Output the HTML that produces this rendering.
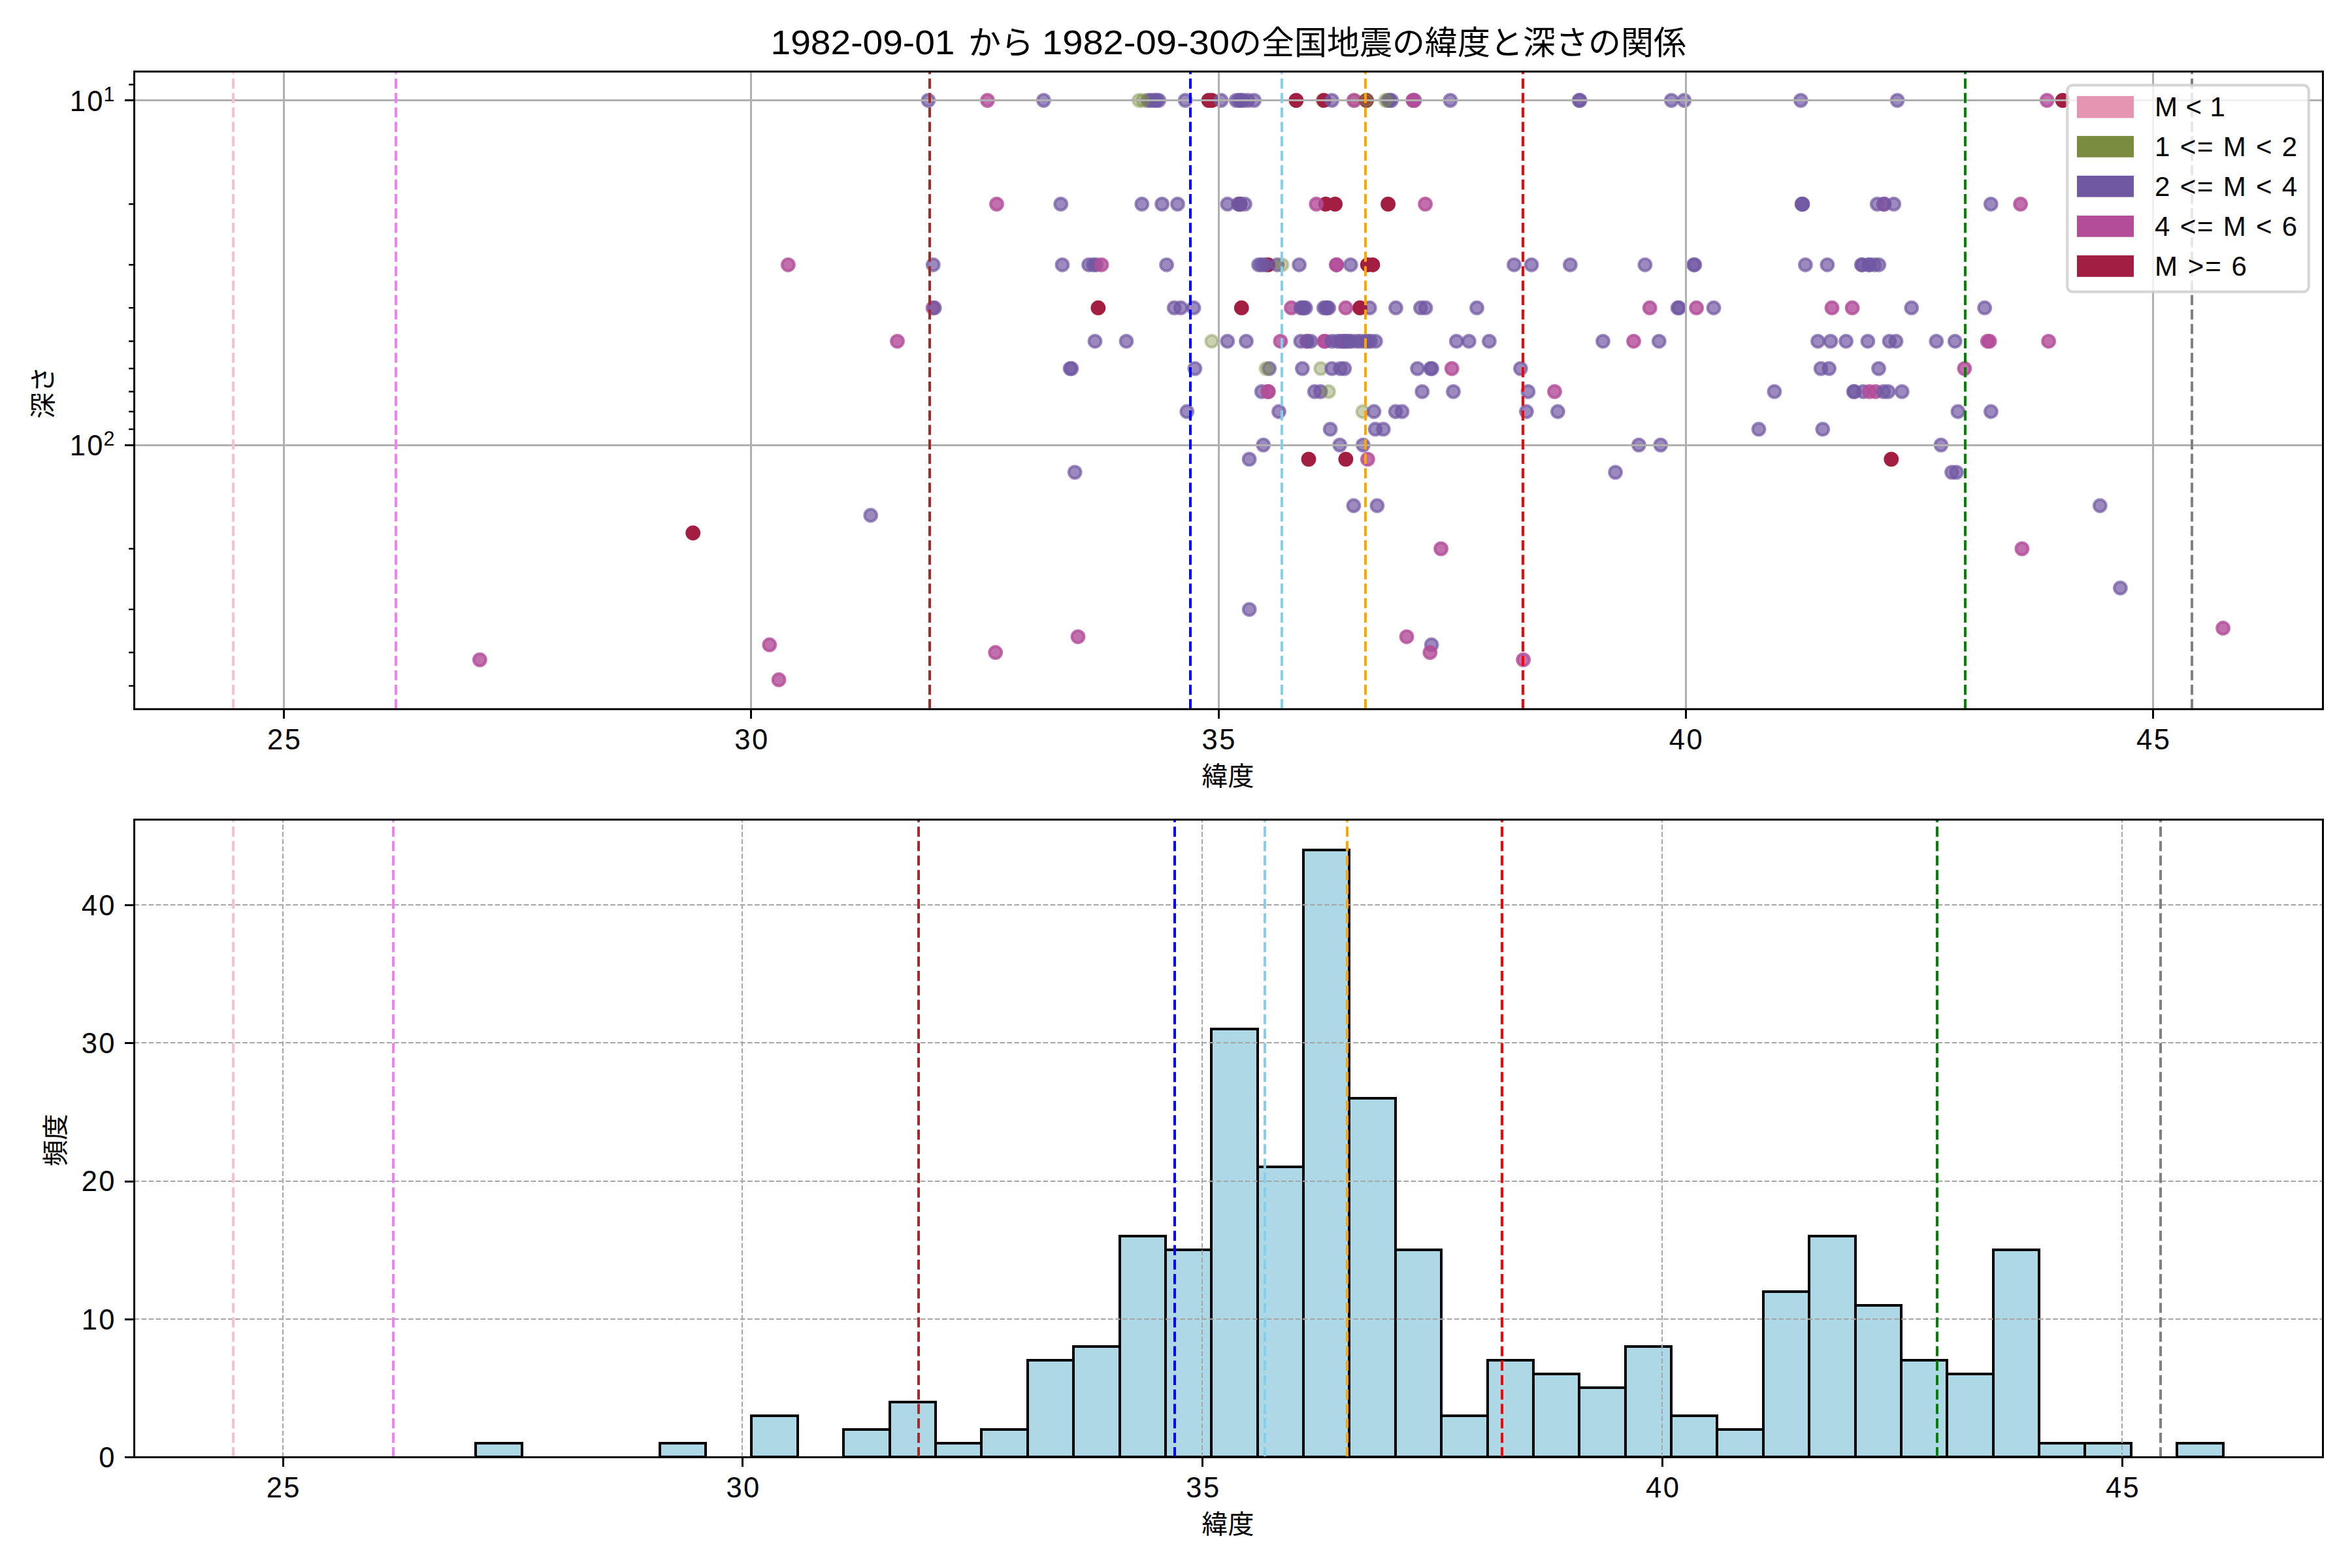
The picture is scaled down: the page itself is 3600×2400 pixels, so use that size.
<!DOCTYPE html>
<html lang="ja"><head><meta charset="utf-8">
<title>1982-09-01 から 1982-09-30の全国地震の緯度と深さの関係</title>
<style>html,body{margin:0;padding:0;background:#fff}svg{display:block}text{font-family:'Liberation Sans', 'Noto Sans CJK JP', sans-serif;fill:#000}</style>
</head><body>
<svg width="3600" height="2400" viewBox="0 0 3600 2400">
<rect x="0" y="0" width="3600" height="2400" fill="#ffffff"/>
<defs><clipPath id="c1"><rect x="205.5" y="109.5" width="3350" height="976"/></clipPath><clipPath id="c2"><rect x="205.5" y="1254.5" width="3350" height="976"/></clipPath></defs>
<g id="ax1">
<g clip-path="url(#c1)" stroke-width="4.17">
<circle cx="1420.9" cy="153.6" r="9.32" fill="#7058a3" stroke="#7058a3" fill-opacity="0.7" stroke-opacity="0.7"/>
<circle cx="1511.5" cy="153.6" r="9.32" fill="#b34c99" stroke="#b34c99" fill-opacity="0.8" stroke-opacity="0.8"/>
<circle cx="1597.4" cy="153.6" r="9.32" fill="#7058a3" stroke="#7058a3" fill-opacity="0.7" stroke-opacity="0.7"/>
<circle cx="1757.2" cy="153.6" r="9.32" fill="#7058a3" stroke="#7058a3" fill-opacity="0.7" stroke-opacity="0.7"/>
<circle cx="1762" cy="153.6" r="9.32" fill="#7058a3" stroke="#7058a3" fill-opacity="0.7" stroke-opacity="0.7"/>
<circle cx="1767" cy="153.6" r="9.32" fill="#7058a3" stroke="#7058a3" fill-opacity="0.7" stroke-opacity="0.7"/>
<circle cx="1770.5" cy="153.6" r="9.32" fill="#7058a3" stroke="#7058a3" fill-opacity="0.7" stroke-opacity="0.7"/>
<circle cx="1773.7" cy="153.6" r="9.32" fill="#7058a3" stroke="#7058a3" fill-opacity="0.7" stroke-opacity="0.7"/>
<circle cx="1743.2" cy="153.6" r="9.32" fill="#7a8c40" stroke="#7a8c40" fill-opacity="0.4" stroke-opacity="0.4"/>
<circle cx="1749.4" cy="153.6" r="9.32" fill="#7a8c40" stroke="#7a8c40" fill-opacity="0.4" stroke-opacity="0.4"/>
<circle cx="1814.2" cy="153.6" r="9.32" fill="#7058a3" stroke="#7058a3" fill-opacity="0.7" stroke-opacity="0.7"/>
<circle cx="1850.1" cy="153.6" r="9.32" fill="#a31f42" stroke="#a31f42"/>
<circle cx="1854.7" cy="153.6" r="9.32" fill="#a31f42" stroke="#a31f42"/>
<circle cx="1869" cy="153.6" r="9.32" fill="#7058a3" stroke="#7058a3" fill-opacity="0.7" stroke-opacity="0.7"/>
<circle cx="1892.2" cy="153.6" r="9.32" fill="#7058a3" stroke="#7058a3" fill-opacity="0.7" stroke-opacity="0.7"/>
<circle cx="1897" cy="153.6" r="9.32" fill="#7058a3" stroke="#7058a3" fill-opacity="0.7" stroke-opacity="0.7"/>
<circle cx="1899" cy="153.6" r="9.32" fill="#7058a3" stroke="#7058a3" fill-opacity="0.7" stroke-opacity="0.7"/>
<circle cx="1902.5" cy="153.6" r="9.32" fill="#7058a3" stroke="#7058a3" fill-opacity="0.7" stroke-opacity="0.7"/>
<circle cx="1910" cy="153.6" r="9.32" fill="#7058a3" stroke="#7058a3" fill-opacity="0.7" stroke-opacity="0.7"/>
<circle cx="1919.6" cy="153.6" r="9.32" fill="#7058a3" stroke="#7058a3" fill-opacity="0.7" stroke-opacity="0.7"/>
<circle cx="1983.9" cy="153.6" r="9.32" fill="#a31f42" stroke="#a31f42"/>
<circle cx="2024.5" cy="153.6" r="9.32" fill="#7a8c40" stroke="#7a8c40" fill-opacity="0.4" stroke-opacity="0.4"/>
<circle cx="2026.5" cy="153.6" r="9.32" fill="#a31f42" stroke="#a31f42"/>
<circle cx="2038.6" cy="153.6" r="9.32" fill="#7058a3" stroke="#7058a3" fill-opacity="0.7" stroke-opacity="0.7"/>
<circle cx="2073.8" cy="153.6" r="9.32" fill="#7a8c40" stroke="#7a8c40" fill-opacity="0.4" stroke-opacity="0.4"/>
<circle cx="2072.3" cy="153.6" r="9.32" fill="#b34c99" stroke="#b34c99" fill-opacity="0.8" stroke-opacity="0.8"/>
<circle cx="2091.5" cy="153.6" r="9.32" fill="#a31f42" stroke="#a31f42"/>
<circle cx="2091.5" cy="153.6" r="9.32" fill="#7a8c40" stroke="#7a8c40" fill-opacity="0.4" stroke-opacity="0.4"/>
<circle cx="2124.5" cy="153.6" r="9.32" fill="#7058a3" stroke="#7058a3" fill-opacity="0.7" stroke-opacity="0.7"/>
<circle cx="2127" cy="153.6" r="9.32" fill="#7058a3" stroke="#7058a3" fill-opacity="0.7" stroke-opacity="0.7"/>
<circle cx="2129.6" cy="153.6" r="9.32" fill="#7058a3" stroke="#7058a3" fill-opacity="0.7" stroke-opacity="0.7"/>
<circle cx="2120.8" cy="153.6" r="9.32" fill="#7a8c40" stroke="#7a8c40" fill-opacity="0.4" stroke-opacity="0.4"/>
<circle cx="2165.1" cy="153.6" r="9.32" fill="#7058a3" stroke="#7058a3" fill-opacity="0.7" stroke-opacity="0.7"/>
<circle cx="2162.8" cy="153.6" r="9.32" fill="#b34c99" stroke="#b34c99" fill-opacity="0.8" stroke-opacity="0.8"/>
<circle cx="2163.6" cy="153.6" r="9.32" fill="#b34c99" stroke="#b34c99" fill-opacity="0.8" stroke-opacity="0.8"/>
<circle cx="2219.9" cy="153.6" r="9.32" fill="#7058a3" stroke="#7058a3" fill-opacity="0.7" stroke-opacity="0.7"/>
<circle cx="2417.2" cy="153.6" r="9.32" fill="#7058a3" stroke="#7058a3" fill-opacity="0.7" stroke-opacity="0.7"/>
<circle cx="2418.2" cy="153.6" r="9.32" fill="#7058a3" stroke="#7058a3" fill-opacity="0.7" stroke-opacity="0.7"/>
<circle cx="2558.3" cy="153.6" r="9.32" fill="#7058a3" stroke="#7058a3" fill-opacity="0.7" stroke-opacity="0.7"/>
<circle cx="2577.8" cy="153.6" r="9.32" fill="#7058a3" stroke="#7058a3" fill-opacity="0.7" stroke-opacity="0.7"/>
<circle cx="2756.3" cy="153.6" r="9.32" fill="#7058a3" stroke="#7058a3" fill-opacity="0.7" stroke-opacity="0.7"/>
<circle cx="2904.1" cy="153.6" r="9.32" fill="#7058a3" stroke="#7058a3" fill-opacity="0.7" stroke-opacity="0.7"/>
<circle cx="3133.2" cy="153.6" r="9.32" fill="#b34c99" stroke="#b34c99" fill-opacity="0.8" stroke-opacity="0.8"/>
<circle cx="3157.1" cy="153.6" r="9.32" fill="#a31f42" stroke="#a31f42"/>
<circle cx="1525.5" cy="312.39" r="9.32" fill="#b34c99" stroke="#b34c99" fill-opacity="0.8" stroke-opacity="0.8"/>
<circle cx="1623.7" cy="312.39" r="9.32" fill="#7058a3" stroke="#7058a3" fill-opacity="0.7" stroke-opacity="0.7"/>
<circle cx="1747.8" cy="312.39" r="9.32" fill="#7058a3" stroke="#7058a3" fill-opacity="0.7" stroke-opacity="0.7"/>
<circle cx="1778.6" cy="312.39" r="9.32" fill="#7058a3" stroke="#7058a3" fill-opacity="0.7" stroke-opacity="0.7"/>
<circle cx="1802.5" cy="312.39" r="9.32" fill="#7058a3" stroke="#7058a3" fill-opacity="0.7" stroke-opacity="0.7"/>
<circle cx="1878.8" cy="312.39" r="9.32" fill="#7058a3" stroke="#7058a3" fill-opacity="0.7" stroke-opacity="0.7"/>
<circle cx="1898" cy="312.39" r="9.32" fill="#a31f42" stroke="#a31f42"/>
<circle cx="1895.5" cy="312.39" r="9.32" fill="#7058a3" stroke="#7058a3" fill-opacity="0.7" stroke-opacity="0.7"/>
<circle cx="1897" cy="312.39" r="9.32" fill="#7058a3" stroke="#7058a3" fill-opacity="0.7" stroke-opacity="0.7"/>
<circle cx="1905.4" cy="312.39" r="9.32" fill="#7058a3" stroke="#7058a3" fill-opacity="0.7" stroke-opacity="0.7"/>
<circle cx="2029.2" cy="312.39" r="9.32" fill="#a31f42" stroke="#a31f42"/>
<circle cx="2043.6" cy="312.39" r="9.32" fill="#a31f42" stroke="#a31f42"/>
<circle cx="2014.8" cy="312.39" r="9.32" fill="#b34c99" stroke="#b34c99" fill-opacity="0.8" stroke-opacity="0.8"/>
<circle cx="2124.6" cy="312.39" r="9.32" fill="#a31f42" stroke="#a31f42"/>
<circle cx="2181.6" cy="312.39" r="9.32" fill="#b34c99" stroke="#b34c99" fill-opacity="0.8" stroke-opacity="0.8"/>
<circle cx="2758.2" cy="312.39" r="9.32" fill="#7058a3" stroke="#7058a3" fill-opacity="0.7" stroke-opacity="0.7"/>
<circle cx="2758.6" cy="312.39" r="9.32" fill="#7058a3" stroke="#7058a3" fill-opacity="0.7" stroke-opacity="0.7"/>
<circle cx="2759" cy="312.39" r="9.32" fill="#7058a3" stroke="#7058a3" fill-opacity="0.7" stroke-opacity="0.7"/>
<circle cx="2873.3" cy="312.39" r="9.32" fill="#7058a3" stroke="#7058a3" fill-opacity="0.7" stroke-opacity="0.7"/>
<circle cx="2884.1" cy="312.39" r="9.32" fill="#b34c99" stroke="#b34c99" fill-opacity="0.8" stroke-opacity="0.8"/>
<circle cx="2883.3" cy="312.39" r="9.32" fill="#7058a3" stroke="#7058a3" fill-opacity="0.7" stroke-opacity="0.7"/>
<circle cx="2898.7" cy="312.39" r="9.32" fill="#7058a3" stroke="#7058a3" fill-opacity="0.7" stroke-opacity="0.7"/>
<circle cx="3047.3" cy="312.39" r="9.32" fill="#7058a3" stroke="#7058a3" fill-opacity="0.7" stroke-opacity="0.7"/>
<circle cx="3092.6" cy="312.39" r="9.32" fill="#b34c99" stroke="#b34c99" fill-opacity="0.8" stroke-opacity="0.8"/>
<circle cx="1206.4" cy="405.28" r="9.32" fill="#b34c99" stroke="#b34c99" fill-opacity="0.8" stroke-opacity="0.8"/>
<circle cx="1428.3" cy="405.28" r="9.32" fill="#7058a3" stroke="#7058a3" fill-opacity="0.7" stroke-opacity="0.7"/>
<circle cx="1626" cy="405.28" r="9.32" fill="#7058a3" stroke="#7058a3" fill-opacity="0.7" stroke-opacity="0.7"/>
<circle cx="1666.5" cy="405.28" r="9.32" fill="#7058a3" stroke="#7058a3" fill-opacity="0.7" stroke-opacity="0.7"/>
<circle cx="1673.5" cy="405.28" r="9.32" fill="#7058a3" stroke="#7058a3" fill-opacity="0.7" stroke-opacity="0.7"/>
<circle cx="1678" cy="405.28" r="9.32" fill="#7058a3" stroke="#7058a3" fill-opacity="0.7" stroke-opacity="0.7"/>
<circle cx="1686" cy="405.28" r="9.32" fill="#b34c99" stroke="#b34c99" fill-opacity="0.8" stroke-opacity="0.8"/>
<circle cx="1785.6" cy="405.28" r="9.32" fill="#7058a3" stroke="#7058a3" fill-opacity="0.7" stroke-opacity="0.7"/>
<circle cx="1941" cy="405.28" r="9.32" fill="#a31f42" stroke="#a31f42"/>
<circle cx="1926.5" cy="405.28" r="9.32" fill="#7058a3" stroke="#7058a3" fill-opacity="0.7" stroke-opacity="0.7"/>
<circle cx="1931" cy="405.28" r="9.32" fill="#7058a3" stroke="#7058a3" fill-opacity="0.7" stroke-opacity="0.7"/>
<circle cx="1936" cy="405.28" r="9.32" fill="#7058a3" stroke="#7058a3" fill-opacity="0.7" stroke-opacity="0.7"/>
<circle cx="1955.1" cy="405.28" r="9.32" fill="#7058a3" stroke="#7058a3" fill-opacity="0.7" stroke-opacity="0.7"/>
<circle cx="1962.3" cy="405.28" r="9.32" fill="#7a8c40" stroke="#7a8c40" fill-opacity="0.4" stroke-opacity="0.4"/>
<circle cx="1988.6" cy="405.28" r="9.32" fill="#7058a3" stroke="#7058a3" fill-opacity="0.7" stroke-opacity="0.7"/>
<circle cx="2045.5" cy="405.28" r="9.32" fill="#b34c99" stroke="#b34c99" fill-opacity="0.8" stroke-opacity="0.8"/>
<circle cx="2045.9" cy="405.28" r="9.32" fill="#b34c99" stroke="#b34c99" fill-opacity="0.8" stroke-opacity="0.8"/>
<circle cx="2067.3" cy="405.28" r="9.32" fill="#7058a3" stroke="#7058a3" fill-opacity="0.7" stroke-opacity="0.7"/>
<circle cx="2093.3" cy="405.28" r="9.32" fill="#a31f42" stroke="#a31f42"/>
<circle cx="2101" cy="405.28" r="9.32" fill="#a31f42" stroke="#a31f42"/>
<circle cx="2317.5" cy="405.28" r="9.32" fill="#7058a3" stroke="#7058a3" fill-opacity="0.7" stroke-opacity="0.7"/>
<circle cx="2344.1" cy="405.28" r="9.32" fill="#7058a3" stroke="#7058a3" fill-opacity="0.7" stroke-opacity="0.7"/>
<circle cx="2403.4" cy="405.28" r="9.32" fill="#7058a3" stroke="#7058a3" fill-opacity="0.7" stroke-opacity="0.7"/>
<circle cx="2517.9" cy="405.28" r="9.32" fill="#7058a3" stroke="#7058a3" fill-opacity="0.7" stroke-opacity="0.7"/>
<circle cx="2592.5" cy="405.28" r="9.32" fill="#7058a3" stroke="#7058a3" fill-opacity="0.7" stroke-opacity="0.7"/>
<circle cx="2593.9" cy="405.28" r="9.32" fill="#7058a3" stroke="#7058a3" fill-opacity="0.7" stroke-opacity="0.7"/>
<circle cx="2763.4" cy="405.28" r="9.32" fill="#7058a3" stroke="#7058a3" fill-opacity="0.7" stroke-opacity="0.7"/>
<circle cx="2796.9" cy="405.28" r="9.32" fill="#7058a3" stroke="#7058a3" fill-opacity="0.7" stroke-opacity="0.7"/>
<circle cx="2849.3" cy="405.28" r="9.32" fill="#7058a3" stroke="#7058a3" fill-opacity="0.7" stroke-opacity="0.7"/>
<circle cx="2850.7" cy="405.28" r="9.32" fill="#7058a3" stroke="#7058a3" fill-opacity="0.7" stroke-opacity="0.7"/>
<circle cx="2860.5" cy="405.28" r="9.32" fill="#7058a3" stroke="#7058a3" fill-opacity="0.7" stroke-opacity="0.7"/>
<circle cx="2861.5" cy="405.28" r="9.32" fill="#7058a3" stroke="#7058a3" fill-opacity="0.7" stroke-opacity="0.7"/>
<circle cx="2869.1" cy="405.28" r="9.32" fill="#7058a3" stroke="#7058a3" fill-opacity="0.7" stroke-opacity="0.7"/>
<circle cx="2875.8" cy="405.28" r="9.32" fill="#7058a3" stroke="#7058a3" fill-opacity="0.7" stroke-opacity="0.7"/>
<circle cx="1428.1" cy="471.19" r="9.32" fill="#b34c99" stroke="#b34c99" fill-opacity="0.8" stroke-opacity="0.8"/>
<circle cx="1430.3" cy="471.19" r="9.32" fill="#7058a3" stroke="#7058a3" fill-opacity="0.7" stroke-opacity="0.7"/>
<circle cx="1680.9" cy="471.19" r="9.32" fill="#a31f42" stroke="#a31f42"/>
<circle cx="1797.3" cy="471.19" r="9.32" fill="#7058a3" stroke="#7058a3" fill-opacity="0.7" stroke-opacity="0.7"/>
<circle cx="1807.3" cy="471.19" r="9.32" fill="#7058a3" stroke="#7058a3" fill-opacity="0.7" stroke-opacity="0.7"/>
<circle cx="1827" cy="471.19" r="9.32" fill="#7058a3" stroke="#7058a3" fill-opacity="0.7" stroke-opacity="0.7"/>
<circle cx="1900.3" cy="471.19" r="9.32" fill="#a31f42" stroke="#a31f42"/>
<circle cx="1976.5" cy="471.19" r="9.32" fill="#b34c99" stroke="#b34c99" fill-opacity="0.8" stroke-opacity="0.8"/>
<circle cx="1991.1" cy="471.19" r="9.32" fill="#7058a3" stroke="#7058a3" fill-opacity="0.7" stroke-opacity="0.7"/>
<circle cx="1993.7" cy="471.19" r="9.32" fill="#7058a3" stroke="#7058a3" fill-opacity="0.7" stroke-opacity="0.7"/>
<circle cx="1995.7" cy="471.19" r="9.32" fill="#7058a3" stroke="#7058a3" fill-opacity="0.7" stroke-opacity="0.7"/>
<circle cx="1998.3" cy="471.19" r="9.32" fill="#7058a3" stroke="#7058a3" fill-opacity="0.7" stroke-opacity="0.7"/>
<circle cx="2026.3" cy="471.19" r="9.32" fill="#7058a3" stroke="#7058a3" fill-opacity="0.7" stroke-opacity="0.7"/>
<circle cx="2029.4" cy="471.19" r="9.32" fill="#7058a3" stroke="#7058a3" fill-opacity="0.7" stroke-opacity="0.7"/>
<circle cx="2031.4" cy="471.19" r="9.32" fill="#7058a3" stroke="#7058a3" fill-opacity="0.7" stroke-opacity="0.7"/>
<circle cx="2033.7" cy="471.19" r="9.32" fill="#7058a3" stroke="#7058a3" fill-opacity="0.7" stroke-opacity="0.7"/>
<circle cx="2059.8" cy="471.19" r="9.32" fill="#b34c99" stroke="#b34c99" fill-opacity="0.8" stroke-opacity="0.8"/>
<circle cx="2096.3" cy="471.19" r="9.32" fill="#7058a3" stroke="#7058a3" fill-opacity="0.7" stroke-opacity="0.7"/>
<circle cx="2081.5" cy="471.19" r="9.32" fill="#a31f42" stroke="#a31f42"/>
<circle cx="2136.5" cy="471.19" r="9.32" fill="#7058a3" stroke="#7058a3" fill-opacity="0.7" stroke-opacity="0.7"/>
<circle cx="2174.4" cy="471.19" r="9.32" fill="#7058a3" stroke="#7058a3" fill-opacity="0.7" stroke-opacity="0.7"/>
<circle cx="2182" cy="471.19" r="9.32" fill="#7058a3" stroke="#7058a3" fill-opacity="0.7" stroke-opacity="0.7"/>
<circle cx="2260.5" cy="471.19" r="9.32" fill="#7058a3" stroke="#7058a3" fill-opacity="0.7" stroke-opacity="0.7"/>
<circle cx="2525.2" cy="471.19" r="9.32" fill="#b34c99" stroke="#b34c99" fill-opacity="0.8" stroke-opacity="0.8"/>
<circle cx="2568.1" cy="471.19" r="9.32" fill="#7058a3" stroke="#7058a3" fill-opacity="0.7" stroke-opacity="0.7"/>
<circle cx="2570" cy="471.19" r="9.32" fill="#7058a3" stroke="#7058a3" fill-opacity="0.7" stroke-opacity="0.7"/>
<circle cx="2596.6" cy="471.19" r="9.32" fill="#b34c99" stroke="#b34c99" fill-opacity="0.8" stroke-opacity="0.8"/>
<circle cx="2623" cy="471.19" r="9.32" fill="#7058a3" stroke="#7058a3" fill-opacity="0.7" stroke-opacity="0.7"/>
<circle cx="2804" cy="471.19" r="9.32" fill="#b34c99" stroke="#b34c99" fill-opacity="0.8" stroke-opacity="0.8"/>
<circle cx="2835.1" cy="471.19" r="9.32" fill="#b34c99" stroke="#b34c99" fill-opacity="0.8" stroke-opacity="0.8"/>
<circle cx="2925.8" cy="471.19" r="9.32" fill="#7058a3" stroke="#7058a3" fill-opacity="0.7" stroke-opacity="0.7"/>
<circle cx="3037.7" cy="471.19" r="9.32" fill="#7058a3" stroke="#7058a3" fill-opacity="0.7" stroke-opacity="0.7"/>
<circle cx="1373.5" cy="522.31" r="9.32" fill="#b34c99" stroke="#b34c99" fill-opacity="0.8" stroke-opacity="0.8"/>
<circle cx="1676" cy="522.31" r="9.32" fill="#7058a3" stroke="#7058a3" fill-opacity="0.7" stroke-opacity="0.7"/>
<circle cx="1724" cy="522.31" r="9.32" fill="#7058a3" stroke="#7058a3" fill-opacity="0.7" stroke-opacity="0.7"/>
<circle cx="1854.7" cy="522.31" r="9.32" fill="#7a8c40" stroke="#7a8c40" fill-opacity="0.4" stroke-opacity="0.4"/>
<circle cx="1878.8" cy="522.31" r="9.32" fill="#7058a3" stroke="#7058a3" fill-opacity="0.7" stroke-opacity="0.7"/>
<circle cx="1907.5" cy="522.31" r="9.32" fill="#7058a3" stroke="#7058a3" fill-opacity="0.7" stroke-opacity="0.7"/>
<circle cx="1959.9" cy="522.31" r="9.32" fill="#b34c99" stroke="#b34c99" fill-opacity="0.8" stroke-opacity="0.8"/>
<circle cx="1990.8" cy="522.31" r="9.32" fill="#7058a3" stroke="#7058a3" fill-opacity="0.7" stroke-opacity="0.7"/>
<circle cx="2000.3" cy="522.31" r="9.32" fill="#b34c99" stroke="#b34c99" fill-opacity="0.8" stroke-opacity="0.8"/>
<circle cx="2000.8" cy="522.31" r="9.32" fill="#7058a3" stroke="#7058a3" fill-opacity="0.7" stroke-opacity="0.7"/>
<circle cx="2006.4" cy="522.31" r="9.32" fill="#7058a3" stroke="#7058a3" fill-opacity="0.7" stroke-opacity="0.7"/>
<circle cx="2026.8" cy="522.31" r="9.32" fill="#b34c99" stroke="#b34c99" fill-opacity="0.8" stroke-opacity="0.8"/>
<circle cx="2028.3" cy="522.31" r="9.32" fill="#b34c99" stroke="#b34c99" fill-opacity="0.8" stroke-opacity="0.8"/>
<circle cx="2038.6" cy="522.31" r="9.32" fill="#7058a3" stroke="#7058a3" fill-opacity="0.7" stroke-opacity="0.7"/>
<circle cx="2047" cy="522.31" r="9.32" fill="#7058a3" stroke="#7058a3" fill-opacity="0.7" stroke-opacity="0.7"/>
<circle cx="2052" cy="522.31" r="9.32" fill="#7058a3" stroke="#7058a3" fill-opacity="0.7" stroke-opacity="0.7"/>
<circle cx="2057.5" cy="522.31" r="9.32" fill="#b34c99" stroke="#b34c99" fill-opacity="0.8" stroke-opacity="0.8"/>
<circle cx="2056" cy="522.31" r="9.32" fill="#7058a3" stroke="#7058a3" fill-opacity="0.7" stroke-opacity="0.7"/>
<circle cx="2061.5" cy="522.31" r="9.32" fill="#7058a3" stroke="#7058a3" fill-opacity="0.7" stroke-opacity="0.7"/>
<circle cx="2065" cy="522.31" r="9.32" fill="#7058a3" stroke="#7058a3" fill-opacity="0.7" stroke-opacity="0.7"/>
<circle cx="2069.1" cy="522.31" r="9.32" fill="#7058a3" stroke="#7058a3" fill-opacity="0.7" stroke-opacity="0.7"/>
<circle cx="2077" cy="522.31" r="9.32" fill="#7058a3" stroke="#7058a3" fill-opacity="0.7" stroke-opacity="0.7"/>
<circle cx="2083" cy="522.31" r="9.32" fill="#7058a3" stroke="#7058a3" fill-opacity="0.7" stroke-opacity="0.7"/>
<circle cx="2089.6" cy="522.31" r="9.32" fill="#7058a3" stroke="#7058a3" fill-opacity="0.7" stroke-opacity="0.7"/>
<circle cx="2093.7" cy="522.31" r="9.32" fill="#7058a3" stroke="#7058a3" fill-opacity="0.7" stroke-opacity="0.7"/>
<circle cx="2097.8" cy="522.31" r="9.32" fill="#7058a3" stroke="#7058a3" fill-opacity="0.7" stroke-opacity="0.7"/>
<circle cx="2105.4" cy="522.31" r="9.32" fill="#7058a3" stroke="#7058a3" fill-opacity="0.7" stroke-opacity="0.7"/>
<circle cx="2229.3" cy="522.31" r="9.32" fill="#7058a3" stroke="#7058a3" fill-opacity="0.7" stroke-opacity="0.7"/>
<circle cx="2248.4" cy="522.31" r="9.32" fill="#7058a3" stroke="#7058a3" fill-opacity="0.7" stroke-opacity="0.7"/>
<circle cx="2279.4" cy="522.31" r="9.32" fill="#7058a3" stroke="#7058a3" fill-opacity="0.7" stroke-opacity="0.7"/>
<circle cx="2453.5" cy="522.31" r="9.32" fill="#7058a3" stroke="#7058a3" fill-opacity="0.7" stroke-opacity="0.7"/>
<circle cx="2500.5" cy="522.31" r="9.32" fill="#b34c99" stroke="#b34c99" fill-opacity="0.8" stroke-opacity="0.8"/>
<circle cx="2539.3" cy="522.31" r="9.32" fill="#7058a3" stroke="#7058a3" fill-opacity="0.7" stroke-opacity="0.7"/>
<circle cx="2782.5" cy="522.31" r="9.32" fill="#7058a3" stroke="#7058a3" fill-opacity="0.7" stroke-opacity="0.7"/>
<circle cx="2802" cy="522.31" r="9.32" fill="#7058a3" stroke="#7058a3" fill-opacity="0.7" stroke-opacity="0.7"/>
<circle cx="2825.6" cy="522.31" r="9.32" fill="#7058a3" stroke="#7058a3" fill-opacity="0.7" stroke-opacity="0.7"/>
<circle cx="2858.9" cy="522.31" r="9.32" fill="#7058a3" stroke="#7058a3" fill-opacity="0.7" stroke-opacity="0.7"/>
<circle cx="2892" cy="522.31" r="9.32" fill="#7058a3" stroke="#7058a3" fill-opacity="0.7" stroke-opacity="0.7"/>
<circle cx="2902" cy="522.31" r="9.32" fill="#7058a3" stroke="#7058a3" fill-opacity="0.7" stroke-opacity="0.7"/>
<circle cx="2963.8" cy="522.31" r="9.32" fill="#7058a3" stroke="#7058a3" fill-opacity="0.7" stroke-opacity="0.7"/>
<circle cx="2992.3" cy="522.31" r="9.32" fill="#7058a3" stroke="#7058a3" fill-opacity="0.7" stroke-opacity="0.7"/>
<circle cx="3042.3" cy="522.31" r="9.32" fill="#b34c99" stroke="#b34c99" fill-opacity="0.8" stroke-opacity="0.8"/>
<circle cx="3045.2" cy="522.31" r="9.32" fill="#b34c99" stroke="#b34c99" fill-opacity="0.8" stroke-opacity="0.8"/>
<circle cx="3135.6" cy="522.31" r="9.32" fill="#b34c99" stroke="#b34c99" fill-opacity="0.8" stroke-opacity="0.8"/>
<circle cx="1638" cy="564.07" r="9.32" fill="#7058a3" stroke="#7058a3" fill-opacity="0.7" stroke-opacity="0.7"/>
<circle cx="1640" cy="564.07" r="9.32" fill="#7058a3" stroke="#7058a3" fill-opacity="0.7" stroke-opacity="0.7"/>
<circle cx="1828.9" cy="564.07" r="9.32" fill="#7058a3" stroke="#7058a3" fill-opacity="0.7" stroke-opacity="0.7"/>
<circle cx="1942.7" cy="564.07" r="9.32" fill="#7058a3" stroke="#7058a3" fill-opacity="0.7" stroke-opacity="0.7"/>
<circle cx="1937.9" cy="564.07" r="9.32" fill="#7a8c40" stroke="#7a8c40" fill-opacity="0.4" stroke-opacity="0.4"/>
<circle cx="1993.4" cy="564.07" r="9.32" fill="#7058a3" stroke="#7058a3" fill-opacity="0.7" stroke-opacity="0.7"/>
<circle cx="2021.5" cy="564.07" r="9.32" fill="#7a8c40" stroke="#7a8c40" fill-opacity="0.4" stroke-opacity="0.4"/>
<circle cx="2038.6" cy="564.07" r="9.32" fill="#7058a3" stroke="#7058a3" fill-opacity="0.7" stroke-opacity="0.7"/>
<circle cx="2051.5" cy="564.07" r="9.32" fill="#7058a3" stroke="#7058a3" fill-opacity="0.7" stroke-opacity="0.7"/>
<circle cx="2057.8" cy="564.07" r="9.32" fill="#7058a3" stroke="#7058a3" fill-opacity="0.7" stroke-opacity="0.7"/>
<circle cx="2169.6" cy="564.07" r="9.32" fill="#7058a3" stroke="#7058a3" fill-opacity="0.7" stroke-opacity="0.7"/>
<circle cx="2189.7" cy="564.07" r="9.32" fill="#7058a3" stroke="#7058a3" fill-opacity="0.7" stroke-opacity="0.7"/>
<circle cx="2191.6" cy="564.07" r="9.32" fill="#7058a3" stroke="#7058a3" fill-opacity="0.7" stroke-opacity="0.7"/>
<circle cx="2222.2" cy="564.07" r="9.32" fill="#b34c99" stroke="#b34c99" fill-opacity="0.8" stroke-opacity="0.8"/>
<circle cx="2327.4" cy="564.07" r="9.32" fill="#7058a3" stroke="#7058a3" fill-opacity="0.7" stroke-opacity="0.7"/>
<circle cx="2787.1" cy="564.07" r="9.32" fill="#7058a3" stroke="#7058a3" fill-opacity="0.7" stroke-opacity="0.7"/>
<circle cx="2799.6" cy="564.07" r="9.32" fill="#7058a3" stroke="#7058a3" fill-opacity="0.7" stroke-opacity="0.7"/>
<circle cx="2875.5" cy="564.07" r="9.32" fill="#7058a3" stroke="#7058a3" fill-opacity="0.7" stroke-opacity="0.7"/>
<circle cx="3006.9" cy="564.07" r="9.32" fill="#b34c99" stroke="#b34c99" fill-opacity="0.8" stroke-opacity="0.8"/>
<circle cx="1931.2" cy="599.39" r="9.32" fill="#7058a3" stroke="#7058a3" fill-opacity="0.7" stroke-opacity="0.7"/>
<circle cx="1940.8" cy="599.39" r="9.32" fill="#b34c99" stroke="#b34c99" fill-opacity="0.8" stroke-opacity="0.8"/>
<circle cx="1941.3" cy="599.39" r="9.32" fill="#b34c99" stroke="#b34c99" fill-opacity="0.8" stroke-opacity="0.8"/>
<circle cx="2012.2" cy="599.39" r="9.32" fill="#7058a3" stroke="#7058a3" fill-opacity="0.7" stroke-opacity="0.7"/>
<circle cx="2021.2" cy="599.39" r="9.32" fill="#7058a3" stroke="#7058a3" fill-opacity="0.7" stroke-opacity="0.7"/>
<circle cx="2033.6" cy="599.39" r="9.32" fill="#7a8c40" stroke="#7a8c40" fill-opacity="0.4" stroke-opacity="0.4"/>
<circle cx="2176.8" cy="599.39" r="9.32" fill="#7058a3" stroke="#7058a3" fill-opacity="0.7" stroke-opacity="0.7"/>
<circle cx="2224.5" cy="599.39" r="9.32" fill="#7058a3" stroke="#7058a3" fill-opacity="0.7" stroke-opacity="0.7"/>
<circle cx="2338.9" cy="599.39" r="9.32" fill="#7058a3" stroke="#7058a3" fill-opacity="0.7" stroke-opacity="0.7"/>
<circle cx="2379.5" cy="599.39" r="9.32" fill="#b34c99" stroke="#b34c99" fill-opacity="0.8" stroke-opacity="0.8"/>
<circle cx="2715.9" cy="599.39" r="9.32" fill="#7058a3" stroke="#7058a3" fill-opacity="0.7" stroke-opacity="0.7"/>
<circle cx="2837.3" cy="599.39" r="9.32" fill="#7058a3" stroke="#7058a3" fill-opacity="0.7" stroke-opacity="0.7"/>
<circle cx="2838.3" cy="599.39" r="9.32" fill="#7058a3" stroke="#7058a3" fill-opacity="0.7" stroke-opacity="0.7"/>
<circle cx="2851.8" cy="599.39" r="9.32" fill="#7058a3" stroke="#7058a3" fill-opacity="0.7" stroke-opacity="0.7"/>
<circle cx="2861.4" cy="599.39" r="9.32" fill="#b34c99" stroke="#b34c99" fill-opacity="0.8" stroke-opacity="0.8"/>
<circle cx="2870.9" cy="599.39" r="9.32" fill="#b34c99" stroke="#b34c99" fill-opacity="0.8" stroke-opacity="0.8"/>
<circle cx="2883" cy="599.39" r="9.32" fill="#7058a3" stroke="#7058a3" fill-opacity="0.7" stroke-opacity="0.7"/>
<circle cx="2890.1" cy="599.39" r="9.32" fill="#7058a3" stroke="#7058a3" fill-opacity="0.7" stroke-opacity="0.7"/>
<circle cx="2911.2" cy="599.39" r="9.32" fill="#7058a3" stroke="#7058a3" fill-opacity="0.7" stroke-opacity="0.7"/>
<circle cx="1816.8" cy="629.98" r="9.32" fill="#7058a3" stroke="#7058a3" fill-opacity="0.7" stroke-opacity="0.7"/>
<circle cx="1957.5" cy="629.98" r="9.32" fill="#7058a3" stroke="#7058a3" fill-opacity="0.7" stroke-opacity="0.7"/>
<circle cx="2085.8" cy="629.98" r="9.32" fill="#7a8c40" stroke="#7a8c40" fill-opacity="0.4" stroke-opacity="0.4"/>
<circle cx="2103" cy="629.98" r="9.32" fill="#7058a3" stroke="#7058a3" fill-opacity="0.7" stroke-opacity="0.7"/>
<circle cx="2136.1" cy="629.98" r="9.32" fill="#7058a3" stroke="#7058a3" fill-opacity="0.7" stroke-opacity="0.7"/>
<circle cx="2146" cy="629.98" r="9.32" fill="#7058a3" stroke="#7058a3" fill-opacity="0.7" stroke-opacity="0.7"/>
<circle cx="2336.4" cy="629.98" r="9.32" fill="#7058a3" stroke="#7058a3" fill-opacity="0.7" stroke-opacity="0.7"/>
<circle cx="2384.4" cy="629.98" r="9.32" fill="#7058a3" stroke="#7058a3" fill-opacity="0.7" stroke-opacity="0.7"/>
<circle cx="2996.9" cy="629.98" r="9.32" fill="#7058a3" stroke="#7058a3" fill-opacity="0.7" stroke-opacity="0.7"/>
<circle cx="3047.4" cy="629.98" r="9.32" fill="#7058a3" stroke="#7058a3" fill-opacity="0.7" stroke-opacity="0.7"/>
<circle cx="2036.1" cy="656.96" r="9.32" fill="#7058a3" stroke="#7058a3" fill-opacity="0.7" stroke-opacity="0.7"/>
<circle cx="2105.1" cy="656.96" r="9.32" fill="#7058a3" stroke="#7058a3" fill-opacity="0.7" stroke-opacity="0.7"/>
<circle cx="2117.3" cy="656.96" r="9.32" fill="#7058a3" stroke="#7058a3" fill-opacity="0.7" stroke-opacity="0.7"/>
<circle cx="2692" cy="656.96" r="9.32" fill="#7058a3" stroke="#7058a3" fill-opacity="0.7" stroke-opacity="0.7"/>
<circle cx="2789.8" cy="656.96" r="9.32" fill="#7058a3" stroke="#7058a3" fill-opacity="0.7" stroke-opacity="0.7"/>
<circle cx="1933.7" cy="681.1" r="9.32" fill="#7058a3" stroke="#7058a3" fill-opacity="0.7" stroke-opacity="0.7"/>
<circle cx="2050.7" cy="681.1" r="9.32" fill="#7058a3" stroke="#7058a3" fill-opacity="0.7" stroke-opacity="0.7"/>
<circle cx="2086.3" cy="681.1" r="9.32" fill="#7058a3" stroke="#7058a3" fill-opacity="0.7" stroke-opacity="0.7"/>
<circle cx="2508.4" cy="681.1" r="9.32" fill="#7058a3" stroke="#7058a3" fill-opacity="0.7" stroke-opacity="0.7"/>
<circle cx="2541.8" cy="681.1" r="9.32" fill="#7058a3" stroke="#7058a3" fill-opacity="0.7" stroke-opacity="0.7"/>
<circle cx="2970.9" cy="681.1" r="9.32" fill="#7058a3" stroke="#7058a3" fill-opacity="0.7" stroke-opacity="0.7"/>
<circle cx="1912.1" cy="702.93" r="9.32" fill="#7058a3" stroke="#7058a3" fill-opacity="0.7" stroke-opacity="0.7"/>
<circle cx="2003" cy="702.93" r="9.32" fill="#a31f42" stroke="#a31f42"/>
<circle cx="2059.9" cy="702.93" r="9.32" fill="#a31f42" stroke="#a31f42"/>
<circle cx="2093.4" cy="702.93" r="9.32" fill="#b34c99" stroke="#b34c99" fill-opacity="0.8" stroke-opacity="0.8"/>
<circle cx="2894.8" cy="702.93" r="9.32" fill="#a31f42" stroke="#a31f42"/>
<circle cx="1645.2" cy="722.87" r="9.32" fill="#7058a3" stroke="#7058a3" fill-opacity="0.7" stroke-opacity="0.7"/>
<circle cx="2472.6" cy="722.87" r="9.32" fill="#7058a3" stroke="#7058a3" fill-opacity="0.7" stroke-opacity="0.7"/>
<circle cx="2987.5" cy="722.87" r="9.32" fill="#7058a3" stroke="#7058a3" fill-opacity="0.7" stroke-opacity="0.7"/>
<circle cx="2994.6" cy="722.87" r="9.32" fill="#7058a3" stroke="#7058a3" fill-opacity="0.7" stroke-opacity="0.7"/>
<circle cx="2071.9" cy="773.99" r="9.32" fill="#7058a3" stroke="#7058a3" fill-opacity="0.7" stroke-opacity="0.7"/>
<circle cx="2107.9" cy="773.99" r="9.32" fill="#7058a3" stroke="#7058a3" fill-opacity="0.7" stroke-opacity="0.7"/>
<circle cx="3214.3" cy="773.99" r="9.32" fill="#7058a3" stroke="#7058a3" fill-opacity="0.7" stroke-opacity="0.7"/>
<circle cx="1332.7" cy="788.77" r="9.32" fill="#7058a3" stroke="#7058a3" fill-opacity="0.7" stroke-opacity="0.7"/>
<circle cx="1060.7" cy="815.76" r="9.32" fill="#a31f42" stroke="#a31f42"/>
<circle cx="2205.6" cy="839.89" r="9.32" fill="#b34c99" stroke="#b34c99" fill-opacity="0.8" stroke-opacity="0.8"/>
<circle cx="3094.9" cy="839.89" r="9.32" fill="#b34c99" stroke="#b34c99" fill-opacity="0.8" stroke-opacity="0.8"/>
<circle cx="3245.4" cy="900" r="9.32" fill="#7058a3" stroke="#7058a3" fill-opacity="0.7" stroke-opacity="0.7"/>
<circle cx="1912.2" cy="932.78" r="9.32" fill="#7058a3" stroke="#7058a3" fill-opacity="0.7" stroke-opacity="0.7"/>
<circle cx="3402.6" cy="961.46" r="9.32" fill="#b34c99" stroke="#b34c99" fill-opacity="0.8" stroke-opacity="0.8"/>
<circle cx="1650" cy="974.55" r="9.32" fill="#b34c99" stroke="#b34c99" fill-opacity="0.8" stroke-opacity="0.8"/>
<circle cx="2153.1" cy="974.55" r="9.32" fill="#b34c99" stroke="#b34c99" fill-opacity="0.8" stroke-opacity="0.8"/>
<circle cx="1177.8" cy="986.94" r="9.32" fill="#b34c99" stroke="#b34c99" fill-opacity="0.8" stroke-opacity="0.8"/>
<circle cx="2191.1" cy="986.94" r="9.32" fill="#7058a3" stroke="#7058a3" fill-opacity="0.7" stroke-opacity="0.7"/>
<circle cx="1523.7" cy="998.69" r="9.32" fill="#b34c99" stroke="#b34c99" fill-opacity="0.8" stroke-opacity="0.8"/>
<circle cx="2188.8" cy="998.69" r="9.32" fill="#b34c99" stroke="#b34c99" fill-opacity="0.8" stroke-opacity="0.8"/>
<circle cx="734.4" cy="1009.86" r="9.32" fill="#b34c99" stroke="#b34c99" fill-opacity="0.8" stroke-opacity="0.8"/>
<circle cx="2331.6" cy="1009.86" r="9.32" fill="#b34c99" stroke="#b34c99" fill-opacity="0.8" stroke-opacity="0.8"/>
<circle cx="1192.1" cy="1040.45" r="9.32" fill="#b34c99" stroke="#b34c99" fill-opacity="0.8" stroke-opacity="0.8"/>
</g>
<g stroke="#b0b0b0" stroke-width="3" clip-path="url(#c1)">
<line x1="434.5" y1="109.5" x2="434.5" y2="1085.5"/>
<line x1="1149.5" y1="109.5" x2="1149.5" y2="1085.5"/>
<line x1="1865.5" y1="109.5" x2="1865.5" y2="1085.5"/>
<line x1="2580.5" y1="109.5" x2="2580.5" y2="1085.5"/>
<line x1="3295.5" y1="109.5" x2="3295.5" y2="1085.5"/>
<line x1="205.5" y1="153.5" x2="3555.5" y2="153.5"/>
<line x1="205.5" y1="681.5" x2="3555.5" y2="681.5"/>
</g>
<g stroke-width="4" stroke-dasharray="15.42 6.67" clip-path="url(#c1)">
<line x1="357" y1="1085.5" x2="357" y2="109.5" stroke="#ffc0cb"/>
<line x1="606" y1="1085.5" x2="606" y2="109.5" stroke="#ee82ee"/>
<line x1="1423" y1="1085.5" x2="1423" y2="109.5" stroke="#a52a2a"/>
<line x1="1822" y1="1085.5" x2="1822" y2="109.5" stroke="#0000ff"/>
<line x1="1962" y1="1085.5" x2="1962" y2="109.5" stroke="#87ceeb"/>
<line x1="2090" y1="1085.5" x2="2090" y2="109.5" stroke="#ffa500"/>
<line x1="2331" y1="1085.5" x2="2331" y2="109.5" stroke="#ff0000"/>
<line x1="3008" y1="1085.5" x2="3008" y2="109.5" stroke="#008000"/>
<line x1="3355" y1="1085.5" x2="3355" y2="109.5" stroke="#808080"/>
</g>
<g stroke="#000" stroke-width="3">
<line x1="434.5" y1="1085.5" x2="434.5" y2="1100.08"/>
<line x1="1149.5" y1="1085.5" x2="1149.5" y2="1100.08"/>
<line x1="1865.5" y1="1085.5" x2="1865.5" y2="1100.08"/>
<line x1="2580.5" y1="1085.5" x2="2580.5" y2="1100.08"/>
<line x1="3295.5" y1="1085.5" x2="3295.5" y2="1100.08"/>
<line x1="190.92" y1="153.5" x2="205.5" y2="153.5"/>
<line x1="190.92" y1="681.5" x2="205.5" y2="681.5"/>
</g>
<g stroke="#000" stroke-width="2.5">
<line x1="197.17" y1="129.46" x2="205.5" y2="129.46"/>
<line x1="197.17" y1="312.39" x2="205.5" y2="312.39"/>
<line x1="197.17" y1="405.28" x2="205.5" y2="405.28"/>
<line x1="197.17" y1="471.19" x2="205.5" y2="471.19"/>
<line x1="197.17" y1="522.31" x2="205.5" y2="522.31"/>
<line x1="197.17" y1="564.07" x2="205.5" y2="564.07"/>
<line x1="197.17" y1="599.39" x2="205.5" y2="599.39"/>
<line x1="197.17" y1="629.98" x2="205.5" y2="629.98"/>
<line x1="197.17" y1="656.96" x2="205.5" y2="656.96"/>
<line x1="197.17" y1="839.89" x2="205.5" y2="839.89"/>
<line x1="197.17" y1="932.78" x2="205.5" y2="932.78"/>
<line x1="197.17" y1="998.69" x2="205.5" y2="998.69"/>
<line x1="197.17" y1="1049.81" x2="205.5" y2="1049.81"/>
</g>
<rect x="205.5" y="109.5" width="3350" height="976" fill="none" stroke="#000" stroke-width="3"/>
<text x="435.7" y="1146.6" font-size="43.5" text-anchor="middle" letter-spacing="2.4">25</text>
<text x="1150.95" y="1146.6" font-size="43.5" text-anchor="middle" letter-spacing="2.4">30</text>
<text x="1866.2" y="1146.6" font-size="43.5" text-anchor="middle" letter-spacing="2.4">35</text>
<text x="2581.45" y="1146.6" font-size="43.5" text-anchor="middle" letter-spacing="2.4">40</text>
<text x="3296.7" y="1146.6" font-size="43.5" text-anchor="middle" letter-spacing="2.4">45</text>
<text x="159.9" y="169.5" font-size="43.5" text-anchor="end" letter-spacing="2.4">10</text>
<text x="158.5" y="154.5" font-size="30.5" text-anchor="start">1</text>
<text x="159.9" y="697" font-size="43.5" text-anchor="end" letter-spacing="2.4">10</text>
<text x="158.5" y="682" font-size="30.5" text-anchor="start">2</text>
<text x="1879.5" y="1202" font-size="40" text-anchor="middle">緯度</text>
<text transform="translate(79.7,600.7) rotate(-90)" font-size="40" text-anchor="middle">深さ</text>
<text y="83.1" font-size="50"><tspan x="1179.5" font-size="51.7" textLength="282" lengthAdjust="spacingAndGlyphs">1982-09-01</tspan><tspan> </tspan><tspan x="1482">から</tspan><tspan> </tspan><tspan x="1595" font-size="51.7" textLength="287" lengthAdjust="spacingAndGlyphs">1982-09-30</tspan><tspan x="1881">の全国地震の緯度と深さの関係</tspan></text>
<rect x="3164.2" y="130.3" width="369.6" height="316.3" rx="8.3" ry="8.3" fill="#ffffff" fill-opacity="0.8" stroke="#cccccc" stroke-opacity="0.8" stroke-width="4.17"/>
<rect x="3179" y="147" width="87" height="33.7" fill="#e595b1"/>
<text x="3298" y="178" font-size="42" letter-spacing="0.4">M &lt; 1</text>
<rect x="3179" y="208.1" width="87" height="32.7" fill="#7a8c40"/>
<text x="3298" y="239.4" font-size="42" letter-spacing="1.8">1 &lt;= M &lt; 2</text>
<rect x="3179" y="268.9" width="87" height="32.7" fill="#7058a3"/>
<text x="3298" y="300.2" font-size="42" letter-spacing="1.8">2 &lt;= M &lt; 4</text>
<rect x="3179" y="330" width="87" height="32.7" fill="#b34c99"/>
<text x="3298" y="361.3" font-size="42" letter-spacing="1.8">4 &lt;= M &lt; 6</text>
<rect x="3179" y="390.8" width="87" height="33" fill="#a31f42"/>
<text x="3298" y="421.9" font-size="42" letter-spacing="2.0">M &gt;= 6</text>
</g>
<g id="ax2">
<g fill="#add8e6" stroke="#000" stroke-width="4" stroke-linejoin="miter" clip-path="url(#c2)">
<rect x="728" y="2209" width="71" height="21"/>
<rect x="1010" y="2209" width="70" height="21"/>
<rect x="1150" y="2167" width="71" height="63"/>
<rect x="1291" y="2188" width="71" height="42"/>
<rect x="1362" y="2146" width="70" height="84"/>
<rect x="1432" y="2209" width="70" height="21"/>
<rect x="1502" y="2188" width="71" height="42"/>
<rect x="1573" y="2082" width="70" height="148"/>
<rect x="1643" y="2061" width="71" height="169"/>
<rect x="1714" y="1892" width="70" height="338"/>
<rect x="1784" y="1913" width="70" height="317"/>
<rect x="1854" y="1575" width="71" height="655"/>
<rect x="1925" y="1786" width="70" height="444"/>
<rect x="1995" y="1301" width="70" height="929"/>
<rect x="2065" y="1681" width="71" height="549"/>
<rect x="2136" y="1913" width="70" height="317"/>
<rect x="2206" y="2167" width="71" height="63"/>
<rect x="2277" y="2082" width="70" height="148"/>
<rect x="2347" y="2103" width="70" height="127"/>
<rect x="2417" y="2124" width="71" height="106"/>
<rect x="2488" y="2061" width="70" height="169"/>
<rect x="2558" y="2167" width="70" height="63"/>
<rect x="2628" y="2188" width="71" height="42"/>
<rect x="2699" y="1977" width="70" height="253"/>
<rect x="2769" y="1892" width="71" height="338"/>
<rect x="2840" y="1998" width="70" height="232"/>
<rect x="2910" y="2082" width="70" height="148"/>
<rect x="2980" y="2103" width="71" height="127"/>
<rect x="3051" y="1913" width="70" height="317"/>
<rect x="3121" y="2209" width="70" height="21"/>
<rect x="3191" y="2209" width="71" height="21"/>
<rect x="3332" y="2209" width="71" height="21"/>
</g>
<g stroke="#a6a6a6" stroke-width="2" stroke-dasharray="7.71 3.33" clip-path="url(#c2)">
<line x1="433" y1="2230.5" x2="433" y2="1254.5"/>
<line x1="1136" y1="2230.5" x2="1136" y2="1254.5"/>
<line x1="1840" y1="2230.5" x2="1840" y2="1254.5"/>
<line x1="2544" y1="2230.5" x2="2544" y2="1254.5"/>
<line x1="3248" y1="2230.5" x2="3248" y2="1254.5"/>
<line x1="205.5" y1="2230" x2="3555.5" y2="2230"/>
<line x1="205.5" y1="2019" x2="3555.5" y2="2019"/>
<line x1="205.5" y1="1808" x2="3555.5" y2="1808"/>
<line x1="205.5" y1="1596" x2="3555.5" y2="1596"/>
<line x1="205.5" y1="1385" x2="3555.5" y2="1385"/>
</g>
<g stroke-width="4" stroke-dasharray="15.42 6.67" clip-path="url(#c2)">
<line x1="357" y1="2230.5" x2="357" y2="1254.5" stroke="#ffc0cb"/>
<line x1="602" y1="2230.5" x2="602" y2="1254.5" stroke="#ee82ee"/>
<line x1="1406" y1="2230.5" x2="1406" y2="1254.5" stroke="#a52a2a"/>
<line x1="1798" y1="2230.5" x2="1798" y2="1254.5" stroke="#0000ff"/>
<line x1="1936" y1="2230.5" x2="1936" y2="1254.5" stroke="#87ceeb"/>
<line x1="2062" y1="2230.5" x2="2062" y2="1254.5" stroke="#ffa500"/>
<line x1="2299" y1="2230.5" x2="2299" y2="1254.5" stroke="#ff0000"/>
<line x1="2965" y1="2230.5" x2="2965" y2="1254.5" stroke="#008000"/>
<line x1="3307" y1="2230.5" x2="3307" y2="1254.5" stroke="#808080"/>
</g>
<g stroke="#000" stroke-width="3">
<line x1="433.5" y1="2230.5" x2="433.5" y2="2245.08"/>
<line x1="1136.5" y1="2230.5" x2="1136.5" y2="2245.08"/>
<line x1="1840.5" y1="2230.5" x2="1840.5" y2="2245.08"/>
<line x1="2544.5" y1="2230.5" x2="2544.5" y2="2245.08"/>
<line x1="3248.5" y1="2230.5" x2="3248.5" y2="2245.08"/>
<line x1="190.92" y1="2230.5" x2="205.5" y2="2230.5"/>
<line x1="190.92" y1="2019.5" x2="205.5" y2="2019.5"/>
<line x1="190.92" y1="1808.5" x2="205.5" y2="1808.5"/>
<line x1="190.92" y1="1596.5" x2="205.5" y2="1596.5"/>
<line x1="190.92" y1="1385.5" x2="205.5" y2="1385.5"/>
</g>
<rect x="205.5" y="1254.5" width="3350" height="976" fill="none" stroke="#000" stroke-width="3"/>
<text x="434.3" y="2291.9" font-size="43.5" text-anchor="middle" letter-spacing="2.4">25</text>
<text x="1138.1" y="2291.9" font-size="43.5" text-anchor="middle" letter-spacing="2.4">30</text>
<text x="1841.9" y="2291.9" font-size="43.5" text-anchor="middle" letter-spacing="2.4">35</text>
<text x="2545.7" y="2291.9" font-size="43.5" text-anchor="middle" letter-spacing="2.4">40</text>
<text x="3249.5" y="2291.9" font-size="43.5" text-anchor="middle" letter-spacing="2.4">45</text>
<text x="177.9" y="2245.9" font-size="43.5" text-anchor="end" letter-spacing="2.4">0</text>
<text x="177.9" y="2034.68" font-size="43.5" text-anchor="end" letter-spacing="2.4">10</text>
<text x="177.9" y="1823.46" font-size="43.5" text-anchor="end" letter-spacing="2.4">20</text>
<text x="177.9" y="1612.24" font-size="43.5" text-anchor="end" letter-spacing="2.4">30</text>
<text x="177.9" y="1401.02" font-size="43.5" text-anchor="end" letter-spacing="2.4">40</text>
<text x="1879.5" y="2347.4" font-size="40" text-anchor="middle">緯度</text>
<text transform="translate(98.7,1745) rotate(-90)" font-size="40" text-anchor="middle">頻度</text>
</g>
</svg></body></html>
